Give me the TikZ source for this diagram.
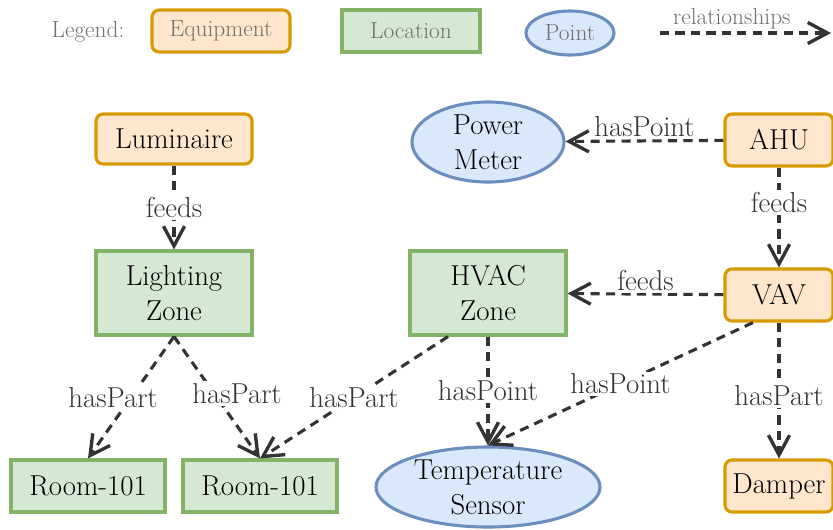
\documentclass[tikz,border=0pt]{standalone}
\usetikzlibrary{arrows.meta,shapes.geometric,positioning}

\definecolor{equipfill}{HTML}{FFE6CC}
\definecolor{equipline}{HTML}{D79B00}
\definecolor{locfill}{HTML}{D5E8D4}
\definecolor{locline}{HTML}{82B366}
\definecolor{pointfill}{HTML}{DAE8FC}
\definecolor{pointline}{HTML}{6C8EBF}
\definecolor{relline}{HTML}{333333}
\definecolor{legendtext}{HTML}{707070}

\newcommand{\legtext}[1]{\scalebox{0.81}{#1}}

\begin{document}
\begin{tikzpicture}[x=0.025cm,y=-0.025cm,
    >={Straight Barb[length=14pt,width=15pt,line width=2.4pt]},
    font=\fontsize{20.5}{25}\selectfont,
    equipment/.style={draw=equipline,fill=equipfill,line width=2.2pt,rounded corners=5pt,align=center,minimum width=2.7cm,minimum height=1.3cm},
    location/.style={draw=locline,fill=locfill,line width=2.2pt,align=center,minimum width=3.85cm,minimum height=1.3cm},
    point/.style={ellipse,draw=pointline,fill=pointfill,line width=2.2pt,align=center,inner sep=0pt},
    legendbox/.style={minimum width=3.45cm,minimum height=1.05cm,text=legendtext},
    rel/.style={->,color=relline,line width=2.2pt,dash pattern=on 6.5pt off 4.5pt},
    lbl/.style={fill=white,text=relline,inner sep=1.5pt}]

    \useasboundingbox (0,0) rectangle (833,529);

    \node[text=legendtext] (legend) at (88,32) {\legtext{Legend:}};
    \node[equipment,legendbox] (legequip) at (221,31) {\legtext{Equipment}};
    \node[location,legendbox] (legloc) at (411,31) {\legtext{Location}};
    \node[point,legendbox,minimum width=2.2cm,minimum height=1.1cm] (legpoint) at (570,33) {\legtext{Point}};
    \coordinate (relfrom) at (660,33);
    \coordinate (relto) at (831,33);
    \draw[rel] (relfrom) -- node[pos=0.42,above,text=legendtext,inner sep=2pt] {\legtext{relationships}} (relto);

    \node[equipment,minimum width=3.9cm,minimum height=1.25cm] (lum) at (174,139) {Luminaire};
    \node[location,minimum width=3.9cm,minimum height=2.1cm] (lzone) at (174,293) {Lighting\\Zone};
    \node[point,minimum width=3.8cm,minimum height=2cm] (pmeter) at (488,142) {Power\\Meter};
    \node[equipment] (ahu) at (779,140) {AHU};
    \node[location,minimum width=3.9cm,minimum height=2.1cm] (hzone) at (488,293) {HVAC\\Zone};
    \node[equipment] (vav) at (779,295) {VAV};
    \node[location] (room1) at (88,486) {Room-101};
    \node[location] (room2) at (260,486) {Room-101};
    \node[point,minimum width=5.6cm,minimum height=2cm] (tsensor) at (488,487) {Temperature\\Sensor};
    \node[equipment] (damper) at (779,486) {Damper};

    \path[rel] (lum) edge node[lbl] {feeds} (lzone)
               (ahu) edge node[lbl,above,inner sep=2pt] {hasPoint} (pmeter)
                     edge node[lbl,pos=0.35] {feeds} (vav)
               (vav) edge node[lbl,above,inner sep=1pt] {feeds} (hzone)
               (lzone.south) edge node[lbl,xshift=-0.45cm] {hasPart} (room1.north)
                             edge node[lbl,xshift=0.5cm,yshift=0.1cm] {hasPart} (room2.north)
               ([xshift=-1cm]hzone.south) edge node[lbl] {hasPart} (room2.north)
               (hzone.south) edge node[lbl] {hasPoint} (tsensor.north)
               ([xshift=-0.65cm]vav.south) edge node[lbl] {hasPoint} (tsensor.north)
               (vav.south) edge node[lbl,pos=0.54] {hasPart} (damper.north);
\end{tikzpicture}
\end{document}
